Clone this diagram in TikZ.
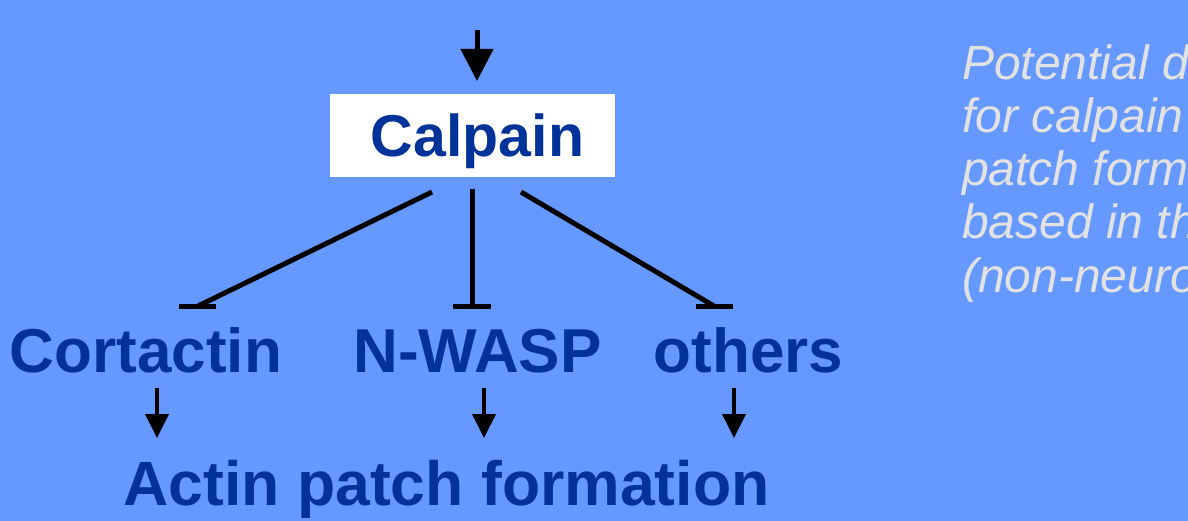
\documentclass[tikz,border=0pt]{standalone}
\usepackage{fontspec}
\setmainfont{Liberation Sans}
\usetikzlibrary{arrows.meta}
\definecolor{bg}{HTML}{6699FF}
\definecolor{dblue}{HTML}{003399}
\definecolor{lgray}{HTML}{E2E2E2}
\begin{document}
\begin{tikzpicture}[x=1pt,y=-1pt,
  lbl/.style={font=\fontsize{62}{62}\selectfont\bfseries, text=dblue, inner sep=0pt, anchor=base},
  act/.style={line width=5pt, black, -{Triangle[width=32pt,length=32pt]}},
  smallact/.style={line width=4pt, black, -{Triangle[width=23pt,length=24pt]}},
  inh/.style={line width=5pt, black},
  note/.style={font=\fontsize{48}{53}\selectfont\itshape, text=lgray, inner sep=0pt, anchor=base west}]
\fill[bg] (0,0) rectangle (1188,521);
\useasboundingbox (0,0) rectangle (1188,521);
% Calpain
\node[fill=white, minimum width=285pt, minimum height=83pt, inner sep=0pt] (box) at (472.5,135.5) {};
\node[lbl, font=\fontsize{59}{59}\selectfont\bfseries] (calpain) at (477.5,157) {Calpain};
\coordinate (topin) at (477,30);
\coordinate (topend) at (477,81);
\draw[act] (topin) -- (topend);
% targets
\node[lbl] (cort) at (146,372) {Cortactin};
\node[lbl] (nwasp) at (477.5,372) {N-WASP};
\node[lbl] (others) at (748.5,372) {others};
\node[lbl, font=\fontsize{62.5}{62.5}\selectfont\bfseries] (actin) at (446.5,505) {Actin patch formation};
% inhibition
\coordinate (s1) at (432,192);
\coordinate (s2) at (472,189);
\coordinate (s3) at (521,192);
\coordinate (e1) at (198,306);
\coordinate (e2) at (472,306);
\coordinate (e3) at (714,306);
\draw[inh] (s1) -- (e1);
\draw[inh] (s2) -- (e2);
\draw[inh] (s3) -- (e3);
\draw[inh] ([xshift=-19pt]e1) -- ([xshift=18pt]e1);
\draw[inh] ([xshift=-19pt]e2) -- ([xshift=19pt]e2);
\draw[inh] ([xshift=-18pt]e3) -- ([xshift=19pt]e3);
% activation arrows
\coordinate (a1) at (157,388); \coordinate (b1) at (157,438);
\coordinate (a2) at (484,388); \coordinate (b2) at (484,438);
\coordinate (a3) at (734,388); \coordinate (b3) at (734,438);
\draw[smallact] (a1) -- (b1);
\draw[smallact] (a2) -- (b2);
\draw[smallact] (a3) -- (b3);
% note
\node[note] (n1) at (962,80) {Potential d};
\node[note] (n2) at (962,133) {for calpain};
\node[note] (n3) at (962,186) {patch form};
\node[note] (n4) at (962,239) {based in th};
\node[note] (n5) at (962,292) {(non-neuro};
\end{tikzpicture}
\end{document}
